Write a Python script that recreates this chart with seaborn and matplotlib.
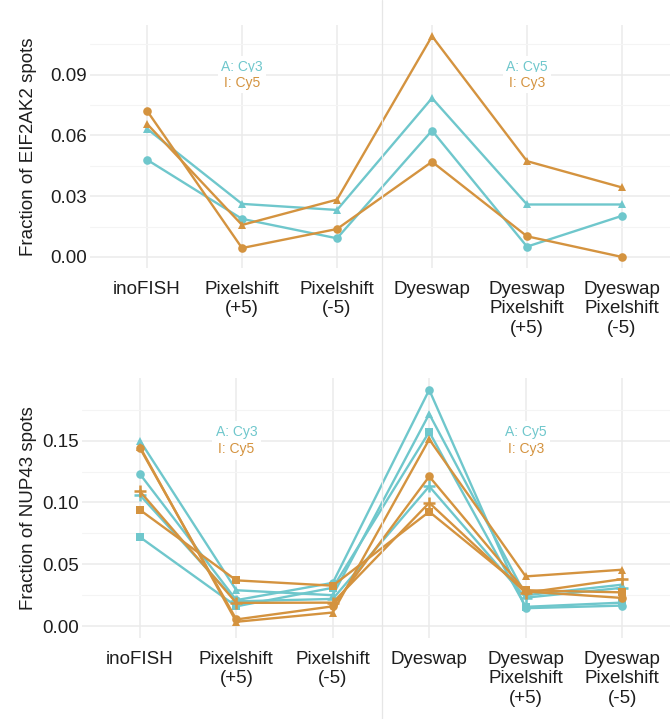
import numpy as np
import pandas as pd
import matplotlib
matplotlib.use("Agg")
import matplotlib.pyplot as plt
import seaborn as sns
from matplotlib.lines import Line2D

sns.set_theme(style="white")
plt.rcParams['font.family'] = ['Liberation Sans', 'DejaVu Sans']

categories = ["inoFISH", "Pixelshift\n(+5)", "Pixelshift\n(-5)", "Dyeswap",
              "Dyeswap\nPixelshift\n(+5)", "Dyeswap\nPixelshift\n(-5)"]

TEAL = "#6FC7CC"
ORANGE = "#D4933F"

# EIF2AK2 panel
eif_teal_circle = [0.048, 0.0188, 0.0092, 0.0624, 0.0051, 0.0203]
eif_teal_triangle = [0.0633, 0.0262, 0.0232, 0.0784, 0.0259, 0.0259]
eif_orange_circle = [0.0722, 0.0044, 0.0138, 0.047, 0.0102, 0.0]
eif_orange_triangle = [0.0657, 0.0158, 0.0283, 0.109, 0.0473, 0.0343]

# NUP43 panel
nup_teal_circle = [0.123, 0.021, 0.035, 0.191, 0.0145, 0.0166]
nup_teal_triangle = [0.150, 0.029, 0.025, 0.1715, 0.025, 0.0335]
nup_teal_square = [0.072, 0.016, 0.031, 0.157, 0.0156, 0.019]
nup_teal_plus = [0.106, 0.020, 0.022, 0.113, 0.023, 0.031]
nup_orange_circle = [0.144, 0.0054, 0.016, 0.121, 0.028, 0.0228]
nup_orange_triangle = [0.145, 0.0035, 0.011, 0.151, 0.0402, 0.0456]
nup_orange_square = [0.094, 0.037, 0.0327, 0.0925, 0.029, 0.0273]
nup_orange_plus = [0.109, 0.0188, 0.019, 0.0997, 0.027, 0.038]

eif_series = [(eif_teal_circle, TEAL, "o"), (eif_teal_triangle, TEAL, "^"),
              (eif_orange_circle, ORANGE, "o"), (eif_orange_triangle, ORANGE, "^")]
nup_series = [(nup_teal_circle, TEAL, "o"), (nup_teal_triangle, TEAL, "^"),
              (nup_teal_square, TEAL, "s"), (nup_teal_plus, TEAL, "+"),
              (nup_orange_circle, ORANGE, "o"), (nup_orange_triangle, ORANGE, "^"),
              (nup_orange_square, ORANGE, "s"), (nup_orange_plus, ORANGE, "+")]

fig = plt.figure(figsize=(6.7, 7.19), dpi=100)
W, H = 670, 719

def add_ax(left, right, top, bottom):
    return fig.add_axes([left / W, 1 - bottom / H, (right - left) / W, (bottom - top) / H])

ax1 = add_ax(90, 679, 25, 268)
ax2 = add_ax(82, 680, 378, 638)

def draw(ax, series, ylim, major, minor, ylabel, ann_y, label_x):
    for vals, col, mk in series:
        df = pd.DataFrame({"cat": categories, "val": vals})
        ms = 8 if mk == "+" else (6.2 if mk in ("o", "^") else 5.6)
        sns.lineplot(data=df, x="cat", y="val", ax=ax, color=col, marker=mk,
                     markersize=ms, markeredgecolor=col,
                     markeredgewidth=1.8 if mk == "+" else 0,
                     linewidth=1.7, sort=False, zorder=3)
    ax.set_xlim(-0.6, 5.6)
    ax.set_ylim(*ylim)
    ax.set_yticks(major)
    ax.set_yticks(minor, minor=True)
    ax.set_yticklabels([f"{v:.2f}" for v in major])
    ax.grid(True, which="major", axis="both", color="#EBEBEB", linewidth=1.1, zorder=0)
    ax.grid(True, which="minor", axis="y", color="#F4F4F4", linewidth=0.8, zorder=0)
    ax.set_axisbelow(True)
    for s in ax.spines.values():
        s.set_visible(False)
    ax.tick_params(axis="both", which="both", length=0, labelsize=13.5, colors="#1E1E1E")
    ax.tick_params(axis="y", pad=2)
    ax.tick_params(axis="x", pad=9)
    ax.set_xlabel("")
    ax.set_ylabel(ylabel, fontsize=13.5, color="#1E1E1E")
    ax.yaxis.set_label_coords(label_x, 0.5)
    for lx, (t1, t2) in zip([1, 4], [("A: Cy3", "I: Cy5"), ("A: Cy5", "I: Cy3")]):
        ax.text(lx, ann_y[0], t1, color=TEAL, fontsize=10, ha="center", va="center",
                bbox=dict(fc="white", ec="none", pad=2.5), zorder=2)
        ax.text(lx, ann_y[1], t2, color=ORANGE, fontsize=10, ha="center", va="center",
                bbox=dict(fc="white", ec="none", pad=2.5), zorder=2)

draw(ax1, eif_series, (-0.00545, 0.1145), [0.0, 0.03, 0.06, 0.09],
     [0.015, 0.045, 0.075, 0.105], "Fraction of EIF2AK2 spots", (0.0939, 0.0861), -0.090)
draw(ax2, nup_series, (-0.0096, 0.2006), [0.0, 0.05, 0.10, 0.15],
     [0.025, 0.075, 0.125, 0.175], "Fraction of NUP43 spots", (0.157, 0.143), -0.076)

# thin separator line across the figure
fig.add_artist(Line2D([382 / W, 382 / W], [0, 1], transform=fig.transFigure,
                      color="#E6E6E6", linewidth=0.9, zorder=11))

fig.savefig("out.png", dpi=100)
